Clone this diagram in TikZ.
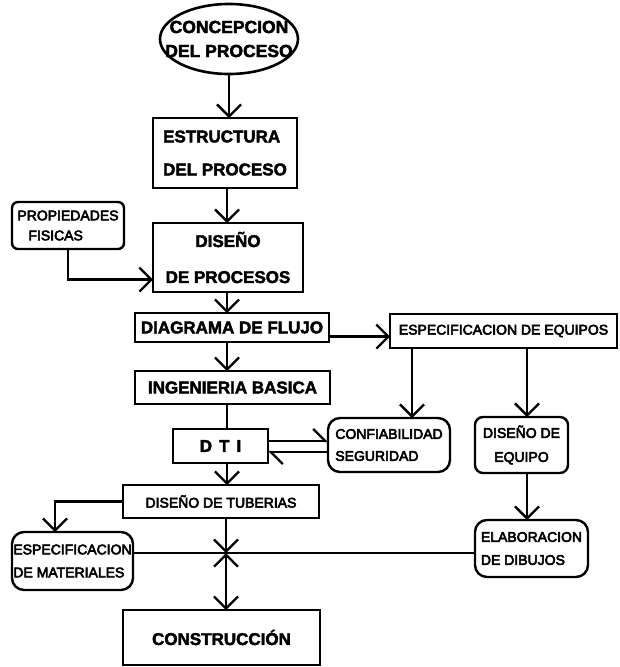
\documentclass[tikz,border=0pt]{standalone}
\usepackage{fontspec}
\setmainfont{Liberation Sans}[BoldFeatures={FakeBold=2.5}]
\newfontfamily\lightface[FakeBold=4]{Liberation Sans}
\usetikzlibrary{arrows.meta,shapes.geometric}

\begin{document}
\begin{tikzpicture}[x=1pt,y=-1pt,
  every node/.style={inner sep=0pt, outer sep=0pt},
  main/.style={draw, line width=2.6pt, font=\bfseries\fontsize{17}{20}\selectfont},
  side/.style={draw, line width=2.4pt, font=\lightface\fontsize{14}{23}\selectfont},
  soft/.style={side, rounded corners=12pt},
  link/.style={line width=2.3pt},
  arr/.style={link, -{Straight Barb[length=12pt,width=24pt]}},
  half/.style={link, -{Straight Barb[length=12pt,width=24pt,left]}}
]
\useasboundingbox (0,0) rectangle (619,667);

% main column
\node[ellipse, draw, line width=2.6pt, minimum width=138pt, minimum height=70pt] (concep) at (229,39) {};
\node[font=\bfseries\fontsize{17.5}{24}\selectfont, align=center] (concept) at (229,39) {CONCEPCION\\DEL PROCESO};
\node[main, minimum width=144pt, minimum height=70pt, align=left, font=\bfseries\fontsize{17}{33}\selectfont] (estr) at (225,153) {ESTRUCTURA\\DEL PROCESO};
\node[main, minimum width=150pt, minimum height=69pt, align=center, font=\bfseries\fontsize{17}{36}\selectfont] (dis) at (228,257.5) {DISEÑO\\DE PROCESOS};
\node[main, minimum width=194pt, minimum height=29pt] (diag) at (232,327.5) {DIAGRAMA DE FLUJO};
\node[main, minimum width=195pt, minimum height=33pt] (ing) at (232.5,387.5) {INGENIERIA BASICA};
\node[main, minimum width=95pt, minimum height=34pt] (dti) at (220.5,446) {D\hspace{7pt}T\hspace{7pt}I};
\node[side, minimum width=196pt, minimum height=33pt] (tub) at (221,501.5) {DISEÑO DE TUBERIAS};
\node[main, minimum width=197pt, minimum height=55pt] (con) at (221.5,637.5) {CONSTRUCCIÓN};

% side boxes
\node[side, rounded corners=6pt, minimum width=112pt, minimum height=47pt, align=left, font=\lightface\fontsize{14}{20}\selectfont] (prop) at (68,225.5) {PROPIEDADES\\\hspace*{11pt}FISICAS};
\node[side, minimum width=227pt, minimum height=34pt] (esp) at (503.5,331) {ESPECIFICACION DE EQUIPOS};
\node[soft, minimum width=122pt, minimum height=54pt, align=left, font=\lightface\fontsize{14}{22}\selectfont] (conf) at (389,445) {CONFIABILIDAD\\SEGURIDAD};
\node[side, rounded corners=8pt, minimum width=93pt, minimum height=56pt, align=center, font=\lightface\fontsize{14}{24}\selectfont] (deq) at (521.5,445) {DISEÑO DE\\EQUIPO};
\node[soft, minimum width=113pt, minimum height=57pt, align=left] (elab) at (531.5,548.5) {ELABORACION\\DE DIBUJOS};
\node[soft, minimum width=121pt, minimum height=58pt, align=left] (mat) at (72.5,561) {ESPECIFICACION\\DE MATERIALES};

% guide positions for vertical runs
\coordinate (ax) at (227,0);
\coordinate (J) at (226,553);
\coordinate (cx) at (412,0);
\coordinate (ex) at (527,0);
\coordinate (mx) at (55,0);

% main flow
\draw[arr] (concep.south) -- (concep.south |- estr.north);
\draw[arr] (estr.south -| ax) -- (dis.north -| ax);
\draw[arr] (dis.south -| ax) -- (diag.north -| ax);
\draw[arr] (diag.south -| ax) -- (ing.north -| ax);
\draw[link] (ing.south -| ax) -- (dti.north -| ax);
\draw[arr] (dti.south -| ax) -- (tub.north -| ax);
\draw[arr] (tub.south -| J) -- (J);
\draw[link, {Straight Barb[length=12pt,width=24pt]}-{Straight Barb[length=12pt,width=24pt]}] (J) -- (con.north -| J);
\draw[link] (mat.east |- J) -- (elab.west |- J);

% side connections
\draw[arr] (prop.south) |- ([yshift=-22pt]dis.west);
\draw[arr] ([yshift=-9pt]diag.east) -- ([yshift=-9pt]diag.east -| esp.west);
\draw[arr] (esp.south -| cx) -- (conf.north -| cx);
\draw[arr] (esp.south -| ex) -- (deq.north -| ex);
\draw[arr] (deq.south -| ex) -- (elab.north -| ex);
\draw[half] ([yshift=5pt]dti.east) -- ([yshift=5pt]dti.east -| conf.west);
\draw[half] ([yshift=-6pt]dti.east -| conf.west) -- ([yshift=-6pt]dti.east);
\draw[arr] (tub.west) -| (mat.north -| mx);
\end{tikzpicture}
\end{document}
